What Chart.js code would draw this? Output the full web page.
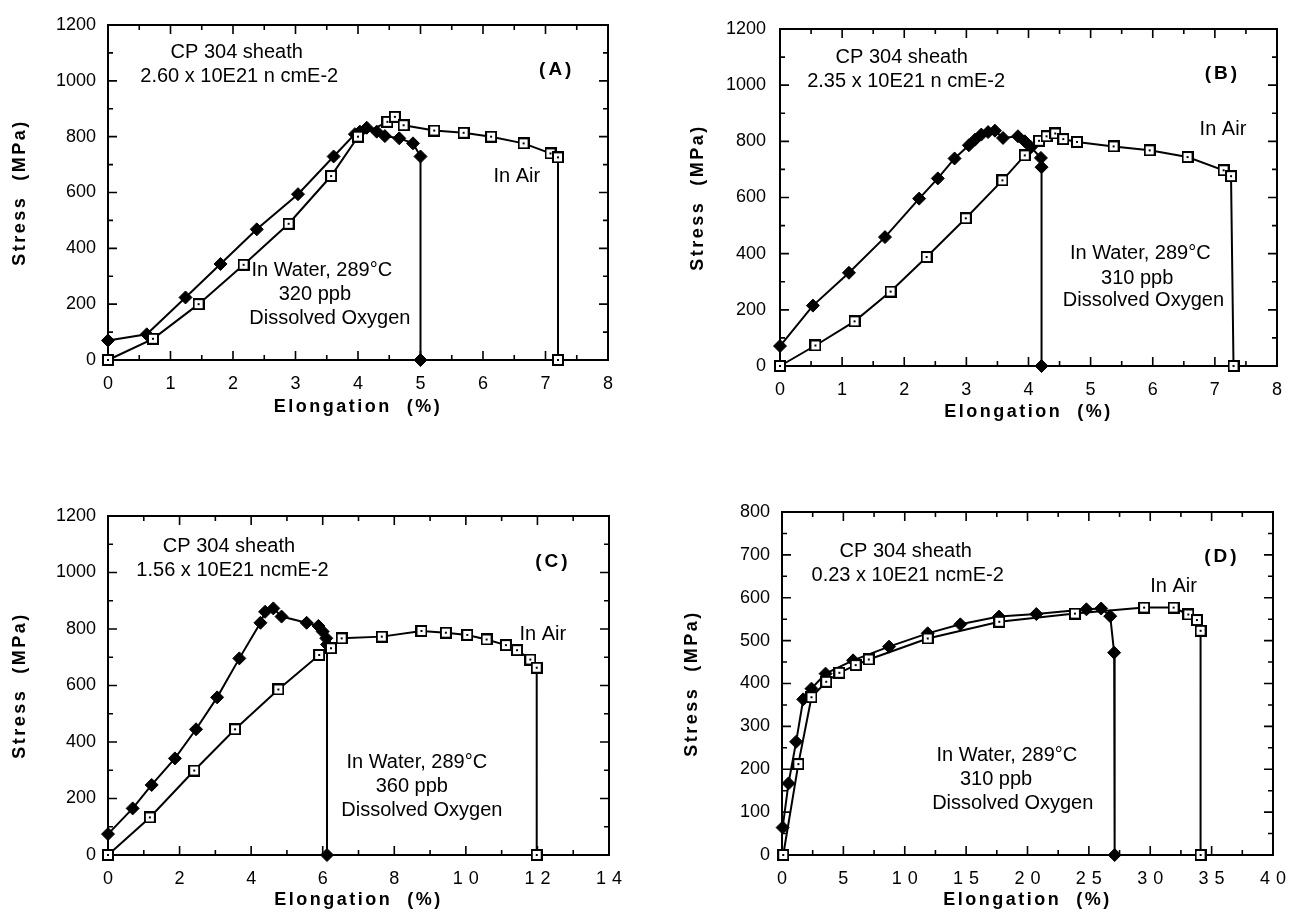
<!DOCTYPE html>
<html><head><meta charset="utf-8">
<script src="https://cdn.jsdelivr.net/npm/chart.js@4.4.1/dist/chart.umd.min.js"></script>
<style>
html,body{margin:0;padding:0;background:#fff;}
body{width:1296px;height:920px;position:relative;overflow:hidden;}
canvas{position:absolute;}
</style></head><body>
<canvas id="cA" width="648" height="440" style="left:0px;top:0px"></canvas>
<canvas id="cB" width="648" height="440" style="left:648px;top:0px"></canvas>
<canvas id="cC" width="648" height="480" style="left:0px;top:440px"></canvas>
<canvas id="cD" width="648" height="480" style="left:648px;top:440px"></canvas>
<script>
// ---------- tick labels ----------
const xTicks8  = [0, 1, 2, 3, 4, 5, 6, 7, 8];
const xTicks14 = [0, 2, 4, 6, 8, 10, 12, 14];
const xTicks40 = [0, 5, 10, 15, 20, 25, 30, 35, 40];
const yTicks1200 = [0, 200, 400, 600, 800, 1000, 1200];
const yTicks800  = [0, 100, 200, 300, 400, 500, 600, 700, 800];

// ---------- panel A : 2.60 x 10E21 ----------
const aWaterX = [0, 0.62, 1.24, 1.80, 2.38, 3.04, 3.61, 3.95, 4.03, 4.14, 4.30, 4.43, 4.66, 4.88, 5.00, 5.00];
const aWaterY = [70, 92, 224, 344, 468, 594, 729, 809, 818, 832, 818, 802, 794, 776, 729, 0];
const aAirX = [0, 0.72, 1.45, 2.17, 2.89, 3.57, 4.00, 4.47, 4.59, 4.73, 5.22, 5.69, 6.13, 6.65, 7.08, 7.20, 7.20];
const aAirY = [0, 76, 200, 341, 488, 659, 800, 853, 871, 841, 822, 814, 800, 776, 740, 726, 0];

// ---------- panel B : 2.35 x 10E21 ----------
const bWaterX = [0, 0.53, 1.11, 1.69, 2.24, 2.54, 2.81, 3.04, 3.14, 3.24, 3.35, 3.46, 3.59, 3.83, 3.94, 4.04, 4.20, 4.21, 4.21];
const bWaterY = [71, 215, 332, 459, 596, 668, 739, 786, 806, 824, 833, 838, 812, 818, 800, 779, 741, 708, 0];
const bAirX = [0, 0.57, 1.20, 1.78, 2.36, 2.99, 3.58, 3.94, 4.17, 4.29, 4.43, 4.56, 4.78, 5.37, 5.95, 6.56, 7.14, 7.26, 7.30];
const bAirY = [0, 73, 159, 265, 388, 526, 661, 750, 802, 818, 828, 808, 798, 782, 768, 744, 697, 676, 0];

// ---------- panel C : 1.56 x 10E21 ----------
const cWaterX = [0, 0.69, 1.22, 1.87, 2.46, 3.05, 3.67, 4.26, 4.39, 4.62, 4.85, 5.55, 5.88, 6.00, 6.10, 6.12, 6.12];
const cWaterY = [74, 165, 248, 342, 445, 558, 696, 822, 861, 873, 844, 822, 811, 791, 767, 745, 0];
const cAirX = [0, 1.17, 2.41, 3.55, 4.76, 5.90, 6.23, 6.53, 7.65, 8.76, 9.44, 10.04, 10.58, 11.12, 11.43, 11.80, 11.98, 11.98];
const cAirY = [0, 133, 299, 445, 586, 708, 732, 767, 773, 793, 787, 779, 763, 743, 725, 692, 663, 0];

// ---------- panel D : 0.23 x 10E21 ----------
const dWaterX = [0.05, 0.53, 1.15, 1.73, 2.40, 3.55, 5.79, 8.72, 11.87, 14.53, 17.68, 20.72, 24.80, 26.00, 26.74, 27.06, 27.10];
const dWaterY = [64, 167, 264, 363, 388, 423, 454, 486, 517, 538, 556, 562, 573, 575, 557, 472, 0];
const dAirX = [0.10, 1.33, 2.40, 3.60, 4.67, 6.00, 7.07, 11.87, 17.70, 23.86, 29.50, 31.90, 33.10, 33.80, 34.10, 34.10];
const dAirY = [0, 212, 368, 404, 425, 443, 456, 505, 544, 563, 577, 577, 561, 548, 523, 0];

// ---------- styling ----------
const FONT = '"Liberation Sans", Arial, Helvetica, sans-serif';
const NOTE_SIZE = 20;

function squareMarker() {
  const c = document.createElement('canvas');
  c.width = 12; c.height = 12;
  const g = c.getContext('2d');
  g.fillStyle = '#fff'; g.fillRect(1, 1, 10, 10);
  g.strokeStyle = '#000'; g.lineWidth = 2; g.strokeRect(1, 1, 10, 10);
  g.fillStyle = '#000'; g.fillRect(5, 5, 2, 2);
  return c;
}
const SQ = squareMarker();

function zip(xs, ys) { return xs.map((v, i) => ({ x: v, y: ys[i] })); }

const framePlugin = {
  id: 'frame',
  beforeDraw(chart) {
    const p = chart.options.plugins.frame;
    const sx = chart.scales.x;
    if (p.xLetterSpacing && !sx._lsPatched) {
      const orig = sx.drawLabels.bind(sx);
      const shift = parseFloat(p.xLetterSpacing) / 2;
      sx.drawLabels = function (ca) {
        const c = this.ctx; c.save(); c.letterSpacing = p.xLetterSpacing;
        c.translate(shift, 0); orig(ca); c.restore();
      };
      sx._lsPatched = true;
    }
  },
  beforeDatasetsDraw(chart) {
    const { ctx, chartArea: a, scales: { x, y } } = chart;
    const p = chart.options.plugins.frame;
    ctx.save();
    ctx.strokeStyle = '#000';
    ctx.lineWidth = 2;
    ctx.strokeRect(a.left, a.top, a.right - a.left, a.bottom - a.top);
    ctx.lineWidth = 1.6;
    ctx.beginPath();
    const isMajor = (v, step) => Math.abs(v / step - Math.round(v / step)) < 1e-6;
    for (let i = 0; x.min + i * p.xMinor <= x.max + 1e-9; i++) {
      const v = x.min + i * p.xMinor;
      const px = x.getPixelForValue(v);
      const L = isMajor(v, p.xMajor) ? 9 : 5;
      ctx.moveTo(px, a.bottom); ctx.lineTo(px, a.bottom - L);
      ctx.moveTo(px, a.top); ctx.lineTo(px, a.top + L);
    }
    for (let i = 0; y.min + i * p.yMinor <= y.max + 1e-9; i++) {
      const v = y.min + i * p.yMinor;
      const py = y.getPixelForValue(v);
      const L = isMajor(v, p.yMajor) ? 9 : 5;
      ctx.moveTo(a.left, py); ctx.lineTo(a.left + L, py);
      ctx.moveTo(a.right, py); ctx.lineTo(a.right - L, py);
    }
    ctx.stroke();
    ctx.restore();
  },
  afterDraw(chart) {
    const { ctx, chartArea: a, scales: { x, y } } = chart;
    const p = chart.options.plugins.frame;
    ctx.save();
    ctx.fillStyle = '#000';
    ctx.textAlign = 'center';
    ctx.textBaseline = 'middle';
    // annotation texts (positioned in data coordinates)
    for (const n of p.notes) {
      ctx.font = (n.bold ? 'bold ' : '') + (n.size || NOTE_SIZE) + 'px ' + FONT;
      ctx.letterSpacing = n.ls || '0px';
      ctx.fillText(n.t, x.getPixelForValue(n.x), y.getPixelForValue(n.y));
    }
    // axis titles
    ctx.font = 'bold 18px ' + FONT;
    ctx.letterSpacing = '2.5px';
    ctx.fillText('Elongation  (%)', (a.left + a.right) / 2, a.bottom + p.xTitleOffset);
    ctx.translate(a.left - p.yTitleOffset, (a.top + a.bottom) / 2);
    ctx.rotate(-Math.PI / 2);
    ctx.fillText('Stress  (MPa)', 0, 0);
    ctx.restore();
  }
};

function makePanel(id, cfg) {
  const ds = (xs, ys, water) => ({
    data: zip(xs, ys),
    showLine: true,
    borderColor: '#000',
    borderWidth: 2,
    tension: 0,
    clip: false,
    pointStyle: water ? 'rectRot' : SQ,
    pointRadius: water ? 6.5 : 6,
    pointBackgroundColor: '#000',
    pointBorderColor: '#000',
    pointBorderWidth: 1,
  });
  const tickFont = { family: FONT, size: 18 };
  new Chart(document.getElementById(id), {
    type: 'scatter',
    data: { datasets: [ds(cfg.airX, cfg.airY, false), ds(cfg.waterX, cfg.waterY, true)] },
    options: {
      responsive: false,
      animation: false,
      devicePixelRatio: 1,
      layout: { padding: { top: cfg.padTop, right: cfg.padRight, left: 0, bottom: 0 } },
      plugins: {
        legend: { display: false },
        tooltip: { enabled: false },
        frame: {
          xMajor: cfg.xMajor, xMinor: cfg.xMinor, yMajor: cfg.yMajor, yMinor: cfg.yMinor,
          notes: cfg.notes, xTitleOffset: cfg.xTitleOffset, yTitleOffset: cfg.yTitleOffset,
          xLetterSpacing: cfg.xLetterSpacing
        }
      },
      scales: {
        x: {
          type: 'linear', position: 'bottom',
          min: cfg.xTicks[0], max: cfg.xTicks[cfg.xTicks.length - 1],
          afterBuildTicks: s => { s.ticks = cfg.xTicks.map(v => ({ value: v })); },
          afterFit: s => { s.height = cfg.xH; },
          grid: { display: false, drawTicks: false },
          border: { display: false },
          ticks: { padding: 13, font: tickFont, color: '#000', maxRotation: 0, autoSkip: false,
                   callback: v => String(v) }
        },
        y: {
          type: 'linear', position: 'left',
          min: cfg.yTicks[0], max: cfg.yTicks[cfg.yTicks.length - 1],
          afterBuildTicks: s => { s.ticks = cfg.yTicks.map(v => ({ value: v })); },
          afterFit: s => { s.width = cfg.yW; },
          grid: { display: false, drawTicks: false },
          border: { display: false },
          ticks: { padding: cfg.yPad, font: tickFont, color: '#000', autoSkip: false,
                   callback: v => String(v) }
        }
      }
    },
    plugins: [framePlugin]
  });
}

makePanel('cA', {
  waterX: aWaterX, waterY: aWaterY, airX: aAirX, airY: aAirY,
  xTicks: xTicks8, yTicks: yTicks1200, xMajor: 1, xMinor: 0.5, yMajor: 200, yMinor: 100,
  yW: 108, padRight: 40, padTop: 25, xH: 80, xTitleOffset: 47, yTitleOffset: 88, yPad: 12,
  notes: [
    { t: 'CP 304 sheath', x: 2.06, y: 1100 },
    { t: '2.60 x 10E21 n cmE-2', x: 2.10, y: 1014 },
    { t: '(A)', x: 7.18, y: 1039, size: 19, bold: true, ls: '3px' },
    { t: 'In Air', x: 6.54, y: 659 },
    { t: 'In Water, 289°C', x: 3.42, y: 322 },
    { t: '320 ppb', x: 3.31, y: 236 },
    { t: 'Dissolved Oxygen', x: 3.55, y: 150 }
  ]
});

makePanel('cB', {
  waterX: bWaterX, waterY: bWaterY, airX: bAirX, airY: bAirY,
  xTicks: xTicks8, yTicks: yTicks1200, xMajor: 1, xMinor: 0.5, yMajor: 200, yMinor: 100,
  yW: 132, padRight: 19, padTop: 29, xH: 74, xTitleOffset: 46, yTitleOffset: 82, yPad: 14,
  notes: [
    { t: 'CP 304 sheath', x: 1.96, y: 1099 },
    { t: '2.35 x 10E21 n cmE-2', x: 2.03, y: 1012 },
    { t: '(B)', x: 7.12, y: 1040, size: 19, bold: true, ls: '3px' },
    { t: 'In Air', x: 7.13, y: 843 },
    { t: 'In Water, 289°C', x: 5.80, y: 402 },
    { t: '310 ppb', x: 5.75, y: 313 },
    { t: 'Dissolved Oxygen', x: 5.85, y: 233 }
  ]
});

makePanel('cC', {
  waterX: cWaterX, waterY: cWaterY, airX: cAirX, airY: cAirY,
  xTicks: xTicks14, yTicks: yTicks1200, xMajor: 2, xMinor: 1, yMajor: 200, yMinor: 100,
  yW: 108, padRight: 39, padTop: 76, xH: 65, xTitleOffset: 45, yTitleOffset: 88, yPad: 12,
  xLetterSpacing: '6px',
  notes: [
    { t: 'CP 304 sheath', x: 3.38, y: 1091 },
    { t: '1.56 x 10E21 ncmE-2', x: 3.48, y: 1006 },
    { t: '(C)', x: 12.43, y: 1037, size: 19, bold: true, ls: '3px' },
    { t: 'In Air', x: 12.15, y: 782 },
    { t: 'In Water, 289°C', x: 8.63, y: 329 },
    { t: '360 ppb', x: 8.49, y: 244 },
    { t: 'Dissolved Oxygen', x: 8.77, y: 159 }
  ]
});

makePanel('cD', {
  waterX: dWaterX, waterY: dWaterY, airX: dAirX, airY: dAirY,
  xTicks: xTicks40, yTicks: yTicks800, xMajor: 5, xMinor: 2.5, yMajor: 100, yMinor: 50,
  yW: 134, padRight: 14, padTop: 72, xH: 65, xTitleOffset: 45, yTitleOffset: 90, yPad: 12,
  xLetterSpacing: '6px',
  notes: [
    { t: 'CP 304 sheath', x: 10.08, y: 707 },
    { t: '0.23 x 10E21 ncmE-2', x: 10.24, y: 651 },
    { t: '(D)', x: 35.84, y: 695, size: 19, bold: true, ls: '3px' },
    { t: 'In Air', x: 31.9, y: 627 },
    { t: 'In Water, 289°C', x: 18.32, y: 233 },
    { t: '310 ppb', x: 17.44, y: 175 },
    { t: 'Dissolved Oxygen', x: 18.8, y: 121 }
  ]
});
</script>
</body></html>
